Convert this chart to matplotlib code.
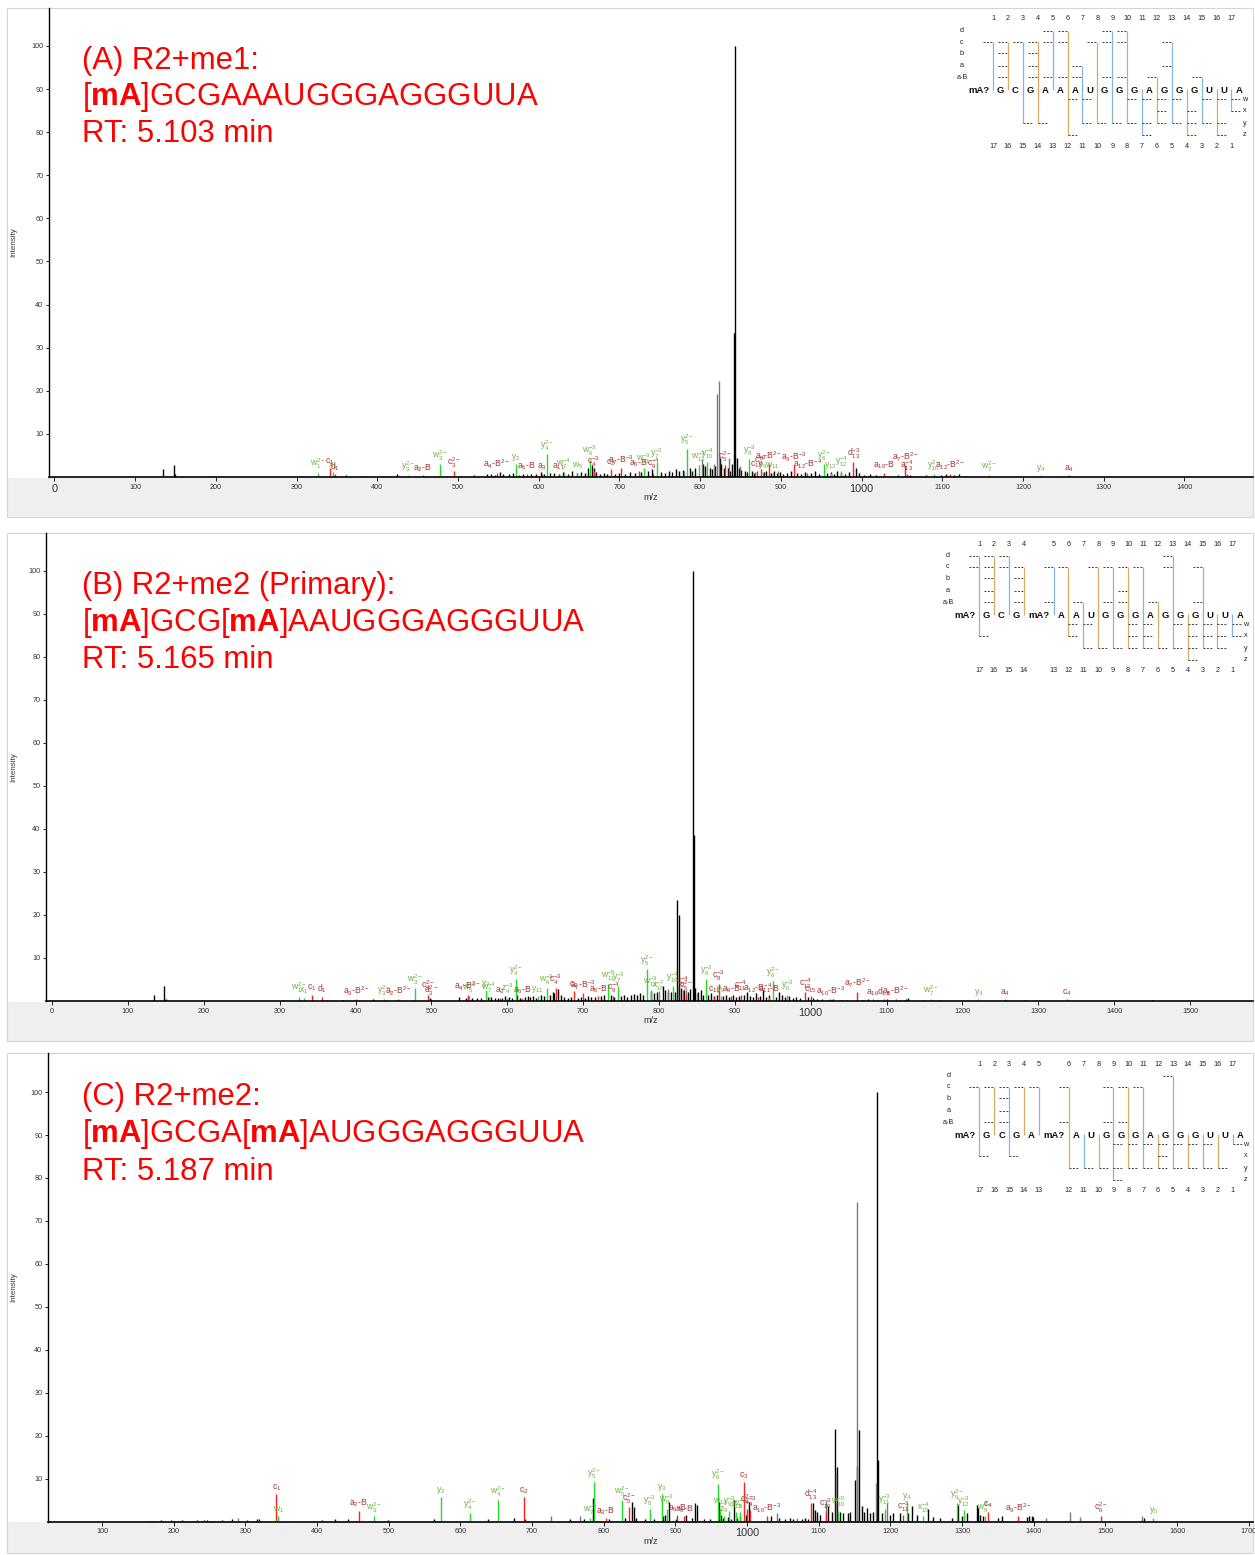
import matplotlib
matplotlib.use("Agg")
import matplotlib.pyplot as plt
from matplotlib.patches import Rectangle

plt.rcParams['font.family'] = ['Liberation Sans', 'DejaVu Sans']
plt.rcParams['mathtext.fontset'] = 'custom'
plt.rcParams['mathtext.rm'] = 'Liberation Sans'
plt.rcParams['mathtext.it'] = 'Liberation Sans:italic'
plt.rcParams['mathtext.bf'] = 'Liberation Sans:bold'

# ---------------- DATA ----------------
titles_A = ["(A) R2+me1:", r"[$\mathbf{mA}$]GCGAAAUGGGAGGGUUA", "RT: 5.103 min"]
titles_B = ["(B) R2+me2 (Primary):", r"[$\mathbf{mA}$]GCG[$\mathbf{mA}$]AAUGGGAGGGUUA", "RT: 5.165 min"]
titles_C = ["(C) R2+me2:", r"[$\mathbf{mA}$]GCGA[$\mathbf{mA}$]AUGGGAGGGUUA", "RT: 5.187 min"]

xticks_A = list(range(0, 1401, 100))
xticks_B = list(range(0, 1501, 100))
xticks_C = list(range(100, 1701, 100))
yticks = list(range(10, 101, 10))

# Panel A: unassigned peaks
A_mz = [134, 147.5, 149.5, 193, 305, 361, 386, 410, 424, 520, 536, 541, 546, 552, 556, 563, 568, 576, 580,
        591, 597, 603, 607, 614, 619, 625, 630, 636, 641, 647, 652, 657, 661, 666, 668, 671, 676, 681, 685,
        694, 699, 707, 713, 719, 727, 735, 740, 751, 756, 761, 765, 770, 774, 779, 787, 790, 794, 804, 806,
        812, 815, 818, 824.5, 826, 829, 834, 837, 840, 842.4, 843.7, 846, 848, 851, 855, 858, 864, 867, 879,
        882, 888, 891, 895, 899, 903, 908, 912, 920, 925, 930, 937, 942, 947, 957, 962, 966, 970, 975, 979,
        985, 993, 997, 1003, 1010, 1018, 1035, 1045, 1060, 1070, 1080, 1098, 1105, 1115, 1121, 1130]
A_int = [1.8, 2.8, 0.6, 0.3, 0.3, 0.4, 0.3, 0.3, 0.8, 0.4, 0.6, 0.8, 0.5, 1.2, 0.7, 0.6, 0.9, 0.5, 0.7,
         0.6, 0.8, 1.2, 0.7, 0.9, 1.0, 0.6, 1.1, 0.8, 1.4, 0.9, 1.2, 1.0, 2.2, 2.8, 2.0, 1.2, 0.8, 0.9, 0.7,
         0.7, 1.0, 0.8, 1.1, 0.9, 1.2, 1.3, 1.8, 1.2, 0.9, 1.4, 1.1, 1.8, 1.3, 1.6, 2.2, 1.5, 2.0, 3.0, 2.5,
         2.0, 1.8, 2.6, 4.4, 3.0, 2.2, 2.0, 1.5, 3.0, 33.5, 100, 4.5, 2.0, 1.6, 1.4, 1.2, 1.5, 1.0, 1.2,
         1.5, 1.0, 1.3, 0.9, 1.1, 0.8, 1.0, 1.5, 1.0, 0.8, 1.2, 0.9, 1.3, 0.8, 1.0, 1.2, 0.8, 1.5, 1.0, 0.8,
         1.2, 2.0, 1.0, 0.5, 0.6, 0.4, 0.3, 0.5, 0.5, 0.3, 0.4, 0.4, 0.7, 0.5, 0.7, 0.3]
A_gray_mz = [780, 802, 817, 821.3, 823.8, 836, 849, 868, 896]
A_gray_int = [1.5, 4.2, 3.0, 19.3, 22.3, 4.4, 2.5, 1.2, 1.5]
A_g_mz = [326, 345, 438, 478, 572, 610, 631, 648, 663, 730, 746, 784, 798, 809, 861, 878, 890, 953, 962,
          975, 1090, 1158, 1222]
A_g_int = [1.0, 1.2, 0.5, 3.0, 3.0, 5.3, 1.2, 1.0, 4.0, 2.2, 3.5, 6.6, 2.8, 3.5, 4.2, 1.2, 1.2, 3.0, 1.0,
           1.5, 0.6, 0.4, 0.5]
A_g_lab = [r"w$_1^{2-}$", r"x$_1$", r"y$_3^{2-}$", r"w$_3^{2-}$", r"y$_2$", r"y$_4^{2-}$", r"w$_7^{-4}$",
           r"w$_5$", r"w$_6^{-3}$", r"w$_{11}^{-3}$", r"y$_7^{-3}$", r"y$_5^{2-}$", r"w$_{12}^{-3}$",
           r"y$_{10}^{-4}$", r"y$_8^{-3}$", r"y$_9$", r"w$_{11}$", r"y$_6^{2-}$", r"y$_{13}$",
           r"y$_{12}^{-4}$", r"y$_{10}^{2-}$", r"w$_7^{2-}$", r"y$_4$"]
A_r_mz = [341, 347, 456, 495, 548, 585, 604, 625, 668, 689, 702, 724, 742, 831, 870, 875, 885, 916, 933,
          990, 1028, 1054, 1056, 1110, 1257]
A_r_int = [2.0, 0.6, 0.4, 1.4, 1.0, 0.8, 0.8, 0.8, 1.5, 1.8, 2.0, 1.5, 1.0, 2.7, 1.3, 1.8, 3.0, 2.8, 1.0,
           3.5, 1.0, 2.7, 0.6, 0.8, 0.4]
A_r_lab = [r"c$_1$", r"d$_1$", r"a$_2$-B", r"c$_3^{2-}$", r"a$_4$-B$^{2-}$", r"a$_6$-B", r"a$_3$",
           r"a$_{11}$", r"c$_4^{-3}$", r"c$_2$", r"a$_7$-B$^{-3}$", r"a$_5$-B", r"c$_9^{-4}$",
           r"c$_5^{2-}$", r"c$_{11}$", r"c$_8^{-3}$", r"a$_8$-B$^{2-}$", r"a$_9$-B$^{-3}$",
           r"a$_{12}$-B$^{-4}$", r"d$_{13}^{-3}$", r"a$_{10}$-B", r"a$_7$-B$^{2-}$", r"a$_{13}^{-4}$",
           r"a$_{12}$-B$^{2-}$", r"a$_4$"]

# Panel B
B_mz = [134, 148, 150, 305, 362, 384, 423, 498, 537, 545, 553, 560, 566, 575, 579, 584, 588, 593, 597, 602,
        606, 613, 617, 623, 627, 630, 634, 638, 644, 648, 656, 660, 662, 667.5, 671, 675, 680, 684, 693, 697,
        703, 706, 711, 716, 724, 728, 737, 741, 750, 754, 758, 763, 767, 771, 775, 779, 789.5, 793, 797,
        804.8, 808, 812, 815.8, 821, 823.7, 826.3, 829, 833, 838, 841, 844.7, 845.9, 848, 851, 855.3, 858,
        865, 868.4, 872, 876, 884, 888, 892, 897, 901, 905, 912, 916, 920, 924, 928, 933, 937, 941, 945, 954,
        958, 962, 966, 972, 977, 981, 986, 997, 1003, 1008, 1015, 1022, 1030, 1040, 1048, 1068, 1075, 1088,
        1100, 1118, 1125, 1128, 1148, 1160, 1170, 1283, 1450]
B_int = [1.5, 3.5, 0.5, 0.3, 0.3, 0.3, 0.4, 0.6, 1.0, 0.6, 0.8, 0.7, 0.6, 1.0, 0.9, 0.7, 0.8, 0.6, 1.2, 1.0,
         0.7, 1.3, 0.8, 1.0, 1.2, 0.9, 1.1, 0.8, 1.4, 1.2, 1.5, 2.0, 1.8, 2.7, 1.5, 1.0, 0.8, 0.9, 0.8, 1.0,
         0.8, 1.2, 0.9, 1.0, 1.2, 1.5, 1.4, 1.0, 1.1, 1.3, 1.0, 1.3, 1.6, 1.4, 1.8, 1.5, 2.3, 1.8, 2.2,
         3.5, 2.5, 2.2, 2.0, 2.0, 23.5, 20.0, 3.0, 2.5, 2.0, 2.8, 100, 38.5, 3.0, 2.0, 2.5, 1.5,
         1.5, 1.8, 1.2, 1.4, 1.2, 1.5, 1.0, 1.3, 1.0, 1.1, 1.5, 2.0, 1.2, 1.0, 1.8, 1.2, 2.5, 1.0, 1.5, 1.0,
         2.0, 1.5, 1.0, 1.2, 0.8, 1.0, 0.8, 1.0, 0.8, 0.5, 0.4, 0.3, 0.4, 0.3, 0.3, 0.3, 0.4, 0.3,
         0.4, 0.3, 0.5, 0.8, 0.3, 0.3, 0.2, 0.2, 0.2]
B_gray_mz = [800.4, 811.4, 825.0, 836, 850]
B_gray_int = [2.3, 2.8, 3.5, 2.5, 1.8]
B_g_mz = [325, 332, 438, 479, 550, 572, 576, 600, 611, 640, 652, 733, 746, 784, 789, 800, 818, 862, 882,
          950, 969, 1158, 1221]
B_g_int = [1.0, 0.8, 0.5, 3.0, 1.2, 2.5, 1.0, 0.8, 5.0, 1.2, 3.0, 4.0, 3.5, 7.4, 2.5, 1.5, 3.5, 5.0, 1.2,
           4.6, 1.5, 0.4, 0.5]
B_g_lab = [r"w$_1^{2-}$", r"x$_1$", r"y$_3^{2-}$", r"w$_3^{2-}$", r"w$_5^{-3}$", r"y$_2$", r"w$_7^{-4}$",
           r"z$_4^{-3}$", r"y$_4^{2-}$", r"y$_{11}$", r"w$_6^{-3}$", r"w$_{11}^{-5}$", r"y$_7^{-3}$",
           r"y$_5^{2-}$", r"w$_{12}^{-3}$", r"x$_{10}^{-7}$", r"y$_{10}^{-4}$", r"y$_8^{-3}$", r"y$_9$",
           r"y$_6^{2-}$", r"y$_6^{-3}$", r"w$_7^{2-}$", r"y$_4$"]
B_r_mz = [342, 356, 401, 456, 496, 500, 548, 590, 620, 664, 688, 700, 720, 740, 831, 835, 873, 879, 895,
          908, 930, 945, 993, 1000, 1026, 1061, 1082, 1096, 1112, 1256, 1338]
B_r_int = [1.5, 1.0, 0.5, 0.5, 1.5, 0.5, 1.5, 0.8, 0.8, 3.0, 2.3, 1.8, 1.2, 1.2, 2.5, 1.5, 1.0, 3.9, 1.2,
           1.5, 1.0, 1.0, 2.0, 1.2, 0.5, 2.2, 0.5, 0.5, 0.5, 0.4, 0.4]
B_r_lab = [r"c$_1$", r"d$_1$", r"a$_3$-B$^{2-}$", r"a$_2$-B$^{2-}$", r"c$_3^{2-}$", r"d$_3^{2-}$",
           r"a$_4$-B$^{2-}$", r"a$_3$", r"a$_6$-B", r"c$_4^{-3}$", r"c$_2$", r"a$_7$-B$^{-3}$", r"a$_5$-B",
           r"c$_9^{-4}$", r"c$_5^{-4}$", r"c$_5^{2-}$", r"c$_{11}$", r"c$_8^{-3}$", r"a$_9$-B",
           r"c$_{11}^{-4}$", r"a$_{12}$-B$^{-4}$", r"a$_{11}$-B", r"c$_{13}^{-4}$", r"c$_{15}$",
           r"a$_{10}$-B$^{-3}$", r"a$_7$-B$^{2-}$", r"a$_{16}$", r"d$_{13}$", r"a$_8$-B$^{2-}$", r"a$_4$",
           r"c$_4$"]

# Panel C
C_mz = [168, 172, 183, 196, 200, 212, 225, 233, 241.8, 246.8, 251.8, 266.8, 281.8, 301.9, 316.8, 319.3,
        407, 424.5, 443.5, 498.6, 563.8, 638.4, 675, 690, 752.6, 772.7, 785.1, 807.7, 829.2, 840.2, 842.7,
        845.2, 857.8, 870.3, 882.8, 885.3, 891.8, 900.3, 915.4, 922.8, 927.8, 930.3, 940.4, 947.9, 961.5,
        964, 966.5, 972.9, 978, 981.4, 986.4, 990.4, 998, 1003, 1033, 1045, 1053, 1060, 1064.6, 1076.3,
        1080.9, 1085.5, 1091.6, 1094.8, 1097.2, 1101.8, 1113.4, 1118.1, 1122.7, 1126.0, 1129.7, 1134.3,
        1141.3, 1143.7, 1150.2, 1153.9, 1156.3, 1160, 1163.2, 1167, 1171.6, 1176.2, 1181.8, 1183.2, 1187.9,
        1199.5, 1204.1, 1213.4, 1225, 1229.8, 1236.7, 1253, 1260, 1269.3, 1285.6, 1294.8, 1299.5, 1306.4,
        1320.4, 1322.7, 1325, 1329.7, 1350.6, 1355.3, 1390, 1393, 1397.2, 1399.5, 1553.9]
C_int = [0.2, 0.2, 0.3, 0.3, 0.2, 0.3, 0.2, 0.3, 0.3, 0.3, 0.2, 0.4, 0.5, 0.4, 0.5, 0.6,
         0.4, 0.6, 0.6, 0.3, 0.5, 0.6, 0.8, 0.6, 0.5, 0.6, 5.4, 0.6, 0.8, 4.6, 3.3,
         0.8, 0.6, 0.5, 1.2, 1.5, 4.6, 0.6, 1.5, 0.8, 4.2, 3.8, 0.6, 0.6, 4.6,
         1.5, 0.8, 1.0, 0.6, 5.0, 0.8, 1.2, 1.4, 4.6, 1.3, 0.8, 0.6, 0.8, 0.6, 0.5,
         0.8, 0.6, 4.2, 2.7, 2.3, 1.5, 3.6, 2.3, 21.5, 12.6, 2.3, 2.0,
         1.9, 2.3, 9.7, 12.9, 21.2, 3.6, 2.3, 3.1, 2.0, 2.3, 100, 14.3, 2.0,
         1.5, 1.9, 1.9, 2.0, 3.6, 1.5, 2.8, 1.0, 0.8, 0.8, 3.9, 1.2, 2.0,
         3.9, 3.1, 1.5, 1.2, 0.8, 1.2, 1.0, 1.2, 1.3, 1.0, 0.9]
C_gray_mz = [289.3, 726, 766.7, 1041.4, 1069.3, 1110.2, 1124.1, 1153.0, 1180.0, 1194.9, 1417.2, 1450.7,
             1464.6, 1551.5]
C_gray_int = [0.9, 1.2, 1.2, 1.9, 0.8, 4.7, 11.2, 74.5, 9.0, 4.2, 0.9, 2.1, 1.0, 1.2]
C_g_mz = [345.9, 479.7, 572.9, 612.9, 652.9, 781, 786.2, 825.3, 864.2, 881.3, 887.8, 959.5, 963, 968, 975,
          985, 990, 1127.4, 1192.5, 1222.8, 1246, 1292.5, 1302.7, 1332, 1566.9]
C_g_int = [1.3, 1.3, 5.7, 1.9, 5.0, 0.8, 9.2, 5.0, 2.9, 6.3, 3.0, 8.8, 3.0, 1.2, 2.5, 2.2, 2.2, 2.5, 3.0,
           4.2, 1.2, 4.3, 2.7, 1.2, 0.9]
C_g_lab = [r"w$_1$", r"w$_3^{2-}$", r"y$_2$", r"y$_4^{2-}$", r"w$_4^{2-}$", r"w$_7^{-3}$", r"y$_5^{2-}$",
           r"w$_5^{2-}$", r"y$_8^{-3}$", r"y$_3$", r"w$_8^{-3}$", r"y$_6^{2-}$", r"w$_{13}$", r"z$_9$",
           r"y$_9^{-3}$", r"x$_{12}$", r"w$_9^{-3}$", r"w$_{10}^{-5}$", r"y$_{11}^{-3}$", r"y$_4$",
           r"x$_{15}^{-4}$", r"y$_9^{2-}$", r"y$_{12}^{-3}$", r"w$_9^{2-}$", r"y$_5$"]
C_r_mz = [343.5, 458.2, 689, 802.7, 835.2, 902.8, 912, 995.5, 1000.5, 1004.2, 1027.4, 1089, 1110, 1218,
          1336, 1378, 1493.5]
C_r_int = [6.4, 2.5, 5.7, 0.8, 3.3, 1.5, 1.2, 9.2, 3.0, 2.7, 1.2, 4.3, 2.2, 1.5, 2.3, 1.2, 1.2]
C_r_lab = [r"c$_1$", r"a$_2$-B", r"c$_2$", r"a$_3$-B", r"c$_5^{2-}$", r"a$_6$-B", r"a$_8$-B", r"c$_3$",
           r"c$_4^{2-}$", r"c$_4^{-3}$", r"a$_{10}$-B$^{-3}$", r"d$_{13}^{-4}$", r"c$_{10}^{-3}$",
           r"c$_{11}^{-3}$", r"c$_4$", r"a$_9$-B$^{2-}$", r"c$_6^{2-}$"]

# Fragment maps: residues and observed ions per cleavage (1..17)
A_res = ["mA?", "G", "C", "G", "A", "A", "A", "U", "G", "G", "G", "A", "G", "G", "G", "U", "U", "A"]
A_top = ["c", "Babc", "c", "Babc", "Bcd", "Bcd", "Ba", "c", "Bcd", "Bcd", "", "B", "ac", "", "B", "", ""]
A_bot = ["", "", "y", "y", "", "wz", "wy", "y", "y", "wy", "wyz", "wxy", "wy", "xyz", "wy", "wyz", "wx"]
B_res = ["mA?", "G", "C", "G", "mA?", "A", "A", "U", "G", "G", "G", "A", "G", "G", "G", "U", "U", "A"]
B_top = ["cd", "Babcd", "cd", "Babc", "Bc", "c", "B", "c", "Bc", "Bac", "c", "B", "cd", "", "Bc", "", ""]
B_bot = ["x", "", "", "", "", "wx", "wy", "y", "y", "wxy", "wxy", "y", "wy", "wxyz", "wxy", "wxy", "wx"]
C_res = ["mA?", "G", "C", "G", "A", "mA?", "A", "U", "G", "G", "G", "A", "G", "G", "G", "U", "U", "A"]
C_top = ["c", "Bc", "Babc", "c", "c", "Bc", "", "", "Bc", "Bc", "c", "", "d", "", "", "", ""]
C_bot = ["x", "", "x", "", "", "y", "y", "y", "wyz", "wy", "wy", "wxy", "wy", "wy", "wy", "y", "w"]

# ---------------- LAYOUT ----------------
W, H = 1255, 1555
fig = plt.figure(figsize=(W / 100, H / 100), dpi=100)

bg = fig.add_axes([0, 0, 1, 1], zorder=-5)
bg.set_xlim(0, W); bg.set_ylim(H, 0); bg.axis('off')
ov = fig.add_axes([0, 0, 1, 1], zorder=5)
ov.set_xlim(0, W); ov.set_ylim(H, 0); ov.axis('off'); ov.patch.set_alpha(0)

GREEN_LINE, RED_LINE = '#22dd22', '#ff2020'
GREEN_TXT, RED_TXT = '#6db33f', '#b03030'
RED_TITLE = '#ff0000'

panels = [
    dict(top=8, axis=477, bottom=517, spine=49, xlim=(-6.8, 1485), ytop=108.8, xt=xticks_A, big=('0', '1000'),
         titles=titles_A, tb=(68.5, 105.5, 142.5),
         mz=A_mz, it=A_int, gmz=A_gray_mz, git=A_gray_int,
         G=(A_g_mz, A_g_int, A_g_lab), R=(A_r_mz, A_r_int, A_r_lab),
         res=A_res, tp=A_top, bt=A_bot, x1=993, gap=None),
    dict(top=533, axis=1001, bottom=1041, spine=46, xlim=(-8, 1583), ytop=108.8, xt=xticks_B, big=('1000',),
         titles=titles_B, tb=(594, 631, 668),
         mz=B_mz, it=B_int, gmz=B_gray_mz, git=B_gray_int,
         G=(B_g_mz, B_g_int, B_g_lab), R=(B_r_mz, B_r_int, B_r_lab),
         res=B_res, tp=B_top, bt=B_bot, x1=979, gap=4),
    dict(top=1053, axis=1521.5, bottom=1553, spine=48, xlim=(24.7, 1706), ytop=109.1, xt=xticks_C, big=('1000',),
         titles=titles_C, tb=(1104.5, 1142, 1179.5),
         mz=C_mz, it=C_int, gmz=C_gray_mz, git=C_gray_int,
         G=(C_g_mz, C_g_int, C_g_lab), R=(C_r_mz, C_r_int, C_r_lab),
         res=C_res, tp=C_top, bt=C_bot, x1=979.3, gap=5),
]

ROW_OFF = [0, 11.7, 23, 34.2, 46.5, 58.4, 71.2, 80.1, 91.8, 104.4, 115.9, 127]
TOP_ROW = {'d': 1, 'c': 2, 'b': 3, 'a': 4, 'B': 5}
BOT_ROW = {'w': 7, 'x': 8, 'y': 9, 'z': 10}
BLUE_V, TAN_V = '#86b6e0', '#d9aa66'


def draw_map(p):
    s = 14.9
    x1, gap = p['x1'], p['gap']

    def cx(i):
        return x1 + (i - 1) * s + (s if (gap is not None and i > gap) else 0)
    ry = [p['top'] + 11 + o for o in ROW_OFF]
    for i in range(1, 18):
        ov.text(cx(i), ry[0], str(i), ha='center', va='center', fontsize=5.2, color='#222')
        ov.text(cx(i), ry[11], str(18 - i), ha='center', va='center', fontsize=5.2, color='#222')
    for lab, r in zip(['d', 'c', 'b', 'a', 'a-B'], [1, 2, 3, 4, 5]):
        ov.text(x1 - 31, ry[r], lab, ha='center', va='center', fontsize=5.2, color='#222')
    for lab, r in zip(['w', 'x', 'y', 'z'], [7, 8, 9, 10]):
        ov.text(cx(17) + 13, ry[r], lab, ha='center', va='center', fontsize=5.2, color='#222')
    for k, res in enumerate(p['res']):
        if k == 0:
            x = cx(1) - 14
        elif k == 17:
            x = cx(17) + 7.5
        else:
            x = (cx(k) + cx(k + 1)) / 2
        ov.text(x, ry[6], res, ha='center', va='center', fontsize=6.8, fontweight='bold', color='#111')
    for i in range(1, 18):
        x = cx(i)
        col = BLUE_V if i % 2 == 1 else TAN_V
        t = p['tp'][i - 1]
        if t:
            rows = [TOP_ROW[ch] for ch in t]
            ov.plot([x, x], [min(ry[r] for r in rows), ry[6]], color=col, lw=0.9, solid_capstyle='butt')
            for r in rows:
                ov.plot([x - 10, x], [ry[r], ry[r]], color='#333', lw=0.65, ls=(0, (2.2, 1.6)))
        b = p['bt'][i - 1]
        if b:
            rows = [BOT_ROW[ch] for ch in b]
            ov.plot([x, x], [ry[6] - 1, max(ry[r] for r in rows)], color=col, lw=0.9, solid_capstyle='butt')
            for r in rows:
                ov.plot([x, x + 10], [ry[r], ry[r]], color='#333', lw=0.65, ls=(0, (2.2, 1.6)))


for p in panels:
    # backgrounds
    bg.add_patch(Rectangle((7, p['top']), 1246, p['bottom'] - p['top'], facecolor='#efefef',
                           edgecolor='#d4d4d4', lw=0.8))
    bg.add_patch(Rectangle((7.5, p['top'] + 0.5), 1245, p['axis'] - p['top'], facecolor='white',
                           edgecolor='none'))
    ax = fig.add_axes([p['spine'] / W, 1 - p['axis'] / H, (1253 - p['spine']) / W,
                       (p['axis'] - p['top']) / H])
    ax.patch.set_alpha(0)
    ax.set_xlim(*p['xlim'])
    ax.set_ylim(0, p['ytop'])
    for sp in ('top', 'right'):
        ax.spines[sp].set_visible(False)
    ax.spines['left'].set_linewidth(1.0)
    ax.spines['bottom'].set_linewidth(1.2)
    ax.set_yticks(yticks)
    ax.set_yticklabels([str(v) for v in yticks], fontsize=5.2, color='#333')
    ax.tick_params(axis='y', length=2, width=0.6, pad=2)
    ax.set_xticks(p['xt'])
    ax.set_xticklabels([str(v) for v in p['xt']], fontsize=5.2, color='#333')
    for lbl in ax.get_xticklabels():
        if lbl.get_text() in p['big']:
            lbl.set_fontsize(7.8)
    ax.tick_params(axis='x', length=3, width=0.6, pad=2)

    ax.vlines(p['mz'], 0, p['it'], color='black', lw=1.0)
    ax.vlines(p['gmz'], 0, p['git'], color='#7a7a7a', lw=1.0)
    gm, gi, gl = p['G']
    rm, ri, rl = p['R']
    ax.vlines(gm, 0, gi, color=GREEN_LINE, lw=1.0)
    ax.vlines(rm, 0, ri, color=RED_LINE, lw=1.0)
    for m, v, l in zip(gm, gi, gl):
        ax.text(m, v + 0.3, l, ha='center', va='bottom', fontsize=6.2, color=GREEN_TXT)
    for m, v, l in zip(rm, ri, rl):
        ax.text(m, v + 0.3, l, ha='center', va='bottom', fontsize=6.2, color=RED_TXT)

    # axis labels
    fig.text(14 / W, 1 - ((p['top'] + p['axis']) / 2) / H, 'Intensity', rotation=90, ha='center',
             va='center', fontsize=5.8, color='#333')
    fig.text(651 / W, 1 - (p['axis'] + 20) / H, 'm/z', ha='center', va='center', fontsize=6.5, color='#333')

    # titles
    for t, yb in zip(p['titles'], p['tb']):
        fig.text(82 / W, 1 - yb / H, t, ha='left', va='baseline', fontsize=22.4, color=RED_TITLE)

    draw_map(p)

fig.savefig('out.png', dpi=100)
